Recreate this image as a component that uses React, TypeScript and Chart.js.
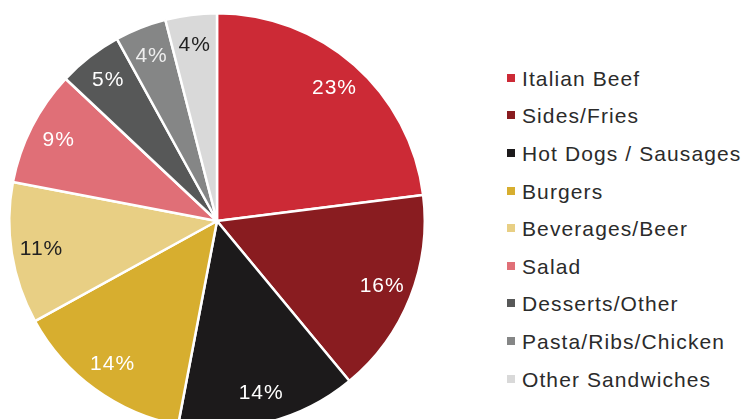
import React, { useEffect, useRef } from "react";
import { Chart, registerables } from "chart.js";

Chart.register(...registerables);

const categories = [
  "Italian Beef",
  "Sides/Fries",
  "Hot Dogs / Sausages",
  "Burgers",
  "Beverages/Beer",
  "Salad",
  "Desserts/Other",
  "Pasta/Ribs/Chicken",
  "Other Sandwiches",
];
const shares = [23, 16, 14, 14, 11, 9, 5, 4, 4];
const sliceColors = [
  "#CC2A36",
  "#891C20",
  "#1C1A1B",
  "#D7AE2F",
  "#E8CF84",
  "#E06F77",
  "#575858",
  "#858686",
  "#D9D9D9",
];
const labelColors = ["#ffffff", "#ffffff", "#ffffff", "#ffffff", "#222222", "#ffffff", "#ffffff", "#eeeeee", "#222222"];

const FONT = '"Liberation Sans", Arial, Helvetica, sans-serif';

const pieLabels = {
  id: "pieLabels",
  afterDatasetsDraw(chart: any) {
    const ctx = chart.ctx;
    const meta = chart.getDatasetMeta(0);
    const data = chart.data.datasets[0].data as number[];
    ctx.save();
    ctx.font = `21px ${FONT}`;
    try { (ctx as any).letterSpacing = "1px"; } catch (e) {}
    ctx.textAlign = "center";
    ctx.textBaseline = "middle";
    meta.data.forEach((arc: any, i: number) => {
      const p = arc.getProps(["x", "y", "startAngle", "endAngle", "outerRadius"], true);
      const mid = (p.startAngle + p.endAngle) / 2;
      const r = p.outerRadius * 0.855;
      const x = p.x + Math.cos(mid) * r;
      const y = p.y + Math.sin(mid) * r;
      ctx.fillStyle = labelColors[i];
      ctx.fillText(`${data[i]}%`, x, y);
    });
    ctx.restore();
  },
};

export default function App() {
  const ref = useRef<HTMLCanvasElement | null>(null);
  useEffect(() => {
    if (!ref.current) return;
    const chart = new Chart(ref.current, {
      type: "pie",
      data: {
        labels: categories,
        datasets: [
          {
            data: shares,
            backgroundColor: sliceColors,
            borderColor: "#ffffff",
            borderWidth: 2.5,
          },
        ],
      },
      options: {
        animation: false,
        responsive: true,
        maintainAspectRatio: false,
        layout: { padding: { left: 8, right: 8, top: 12, bottom: 12 } },
        plugins: {
          legend: { display: false },
          tooltip: { enabled: false },
        },
      },
      plugins: [pieLabels],
    });
    return () => chart.destroy();
  }, []);

  return (
    <div
      style={{
        position: "fixed",
        left: 0,
        top: 0,
        width: 747,
        height: 419,
        overflow: "hidden",
        background: "#ffffff",
      }}
    >
      <div style={{ position: "absolute", left: 0, top: 0, width: 434, height: 442 }}>
        <canvas ref={ref} />
      </div>
      {categories.map((c, i) => (
        <div
          key={c}
          style={{
            position: "absolute",
            left: 507,
            top: 66.7 + i * 37.6,
            height: 24,
            lineHeight: "24px",
            whiteSpace: "nowrap",
            fontFamily: FONT,
            fontSize: 21,
            letterSpacing: "1.1px",
            color: "#2b2b2b",
          }}
        >
          <span
            style={{
              position: "absolute",
              left: 0,
              top: 7,
              width: 8,
              height: 8,
              background: sliceColors[i],
            }}
          />
          <span style={{ position: "absolute", left: 15 }}>{c}</span>
        </div>
      ))}
    </div>
  );
}
